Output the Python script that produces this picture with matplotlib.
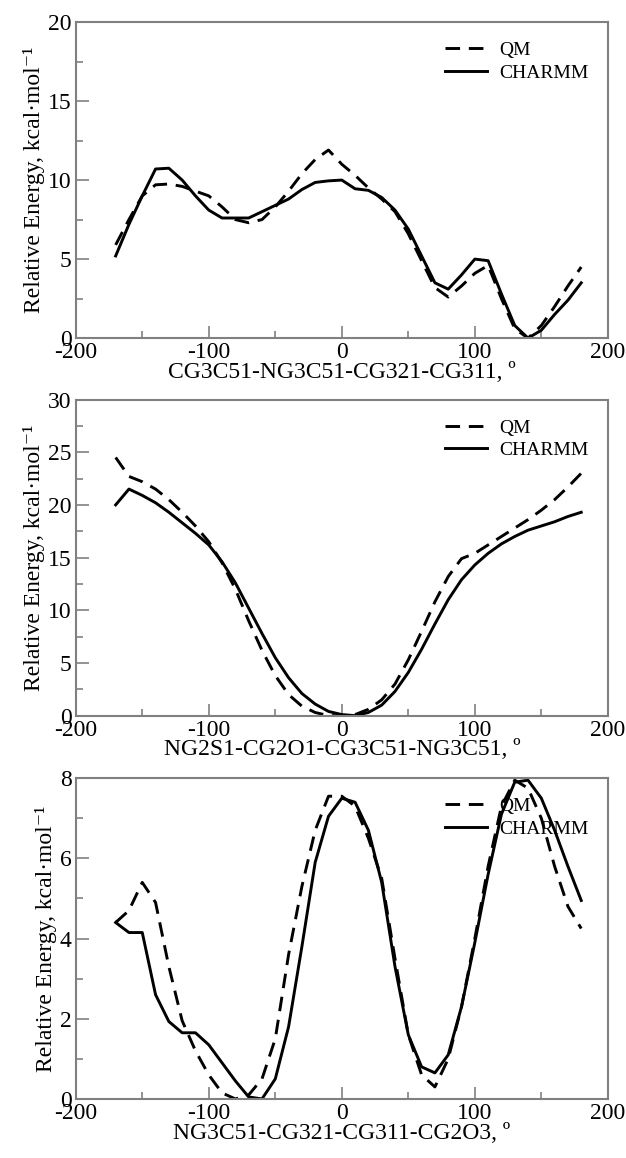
import numpy as np
import matplotlib
matplotlib.use("Agg")
import matplotlib.pyplot as plt
from matplotlib.ticker import MultipleLocator

# ── data ──
angles = np.arange(-170, 181, 10)

# panel 1: CG3C51-NG3C51-CG321-CG311
qm_1 = [5.9, 7.5, 9.0, 9.7, 9.75, 9.6, 9.3, 9.0, 8.3, 7.5, 7.3, 7.5, 8.3, 9.3,
        10.4, 11.3, 11.9, 11.0, 10.3, 9.5, 8.8, 8.0, 6.6, 4.9, 3.2, 2.6, 3.3,
        4.1, 4.6, 2.5, 0.6, 0.0, 0.8, 2.0, 3.3, 4.5]
charmm_1 = [5.2, 7.2, 9.0, 10.7, 10.75, 10.0, 9.0, 8.1, 7.6, 7.6, 7.6, 8.0, 8.4,
            8.8, 9.4, 9.85, 9.95, 10.0, 9.45, 9.35, 8.9, 8.1, 6.9, 5.2, 3.5,
            3.1, 4.0, 5.0, 4.9, 2.8, 0.8, 0.0, 0.5, 1.5, 2.4, 3.5]

# panel 2: NG2S1-CG2O1-CG3C51-NG3C51
qm_2 = [24.5, 22.7, 22.2, 21.5, 20.5, 19.3, 18.0, 16.5, 14.5, 12.0, 9.0, 6.2,
        3.8, 2.0, 0.9, 0.3, 0.0, 0.0, 0.1, 0.6, 1.5, 3.0, 5.3, 8.0, 10.8, 13.2,
        14.9, 15.4, 16.2, 17.0, 17.8, 18.6, 19.5, 20.5, 21.7, 23.0]
charmm_2 = [20.0, 21.5, 20.9, 20.2, 19.3, 18.3, 17.3, 16.2, 14.6, 12.6, 10.2,
            7.8, 5.5, 3.6, 2.1, 1.1, 0.4, 0.1, 0.0, 0.3, 1.0, 2.3, 4.1, 6.3,
            8.7, 11.0, 12.9, 14.3, 15.4, 16.3, 17.0, 17.6, 18.0, 18.4, 18.9, 19.3]

# panel 3: NG3C51-CG321-CG311-CG2O3
qm_3 = [4.4, 4.7, 5.4, 4.9, 3.3, 1.95, 1.2, 0.6, 0.15, 0.0, 0.1, 0.5, 1.5,
        3.6, 5.3, 6.7, 7.55, 7.55, 7.3, 6.5, 5.5, 3.5, 1.6, 0.6, 0.3, 1.0, 2.3,
        4.0, 5.8, 7.3, 7.95, 7.75, 7.0, 5.8, 4.8, 4.25]
charmm_3 = [4.4, 4.15, 4.15, 2.6, 1.93, 1.65, 1.65, 1.35, 0.9, 0.45, 0.05, 0.0,
            0.5, 1.8, 3.8, 5.9, 7.05, 7.5, 7.4, 6.7, 5.4, 3.3, 1.6, 0.8, 0.65,
            1.1, 2.3, 3.9, 5.6, 7.1, 7.9, 7.95, 7.5, 6.7, 5.8, 4.95]

xlabels = ["CG3C51-NG3C51-CG321-CG311, º",
           "NG2S1-CG2O1-CG3C51-NG3C51, º",
           "NG3C51-CG321-CG311-CG2O3, º"]
ylims = [(0, 20), (0, 30), (0, 8)]
ysteps = [(5, 2.5), (5, 2.5), (2, 1)]

plt.rcParams['font.family'] = ['Liberation Serif', 'DejaVu Serif']
plt.rcParams['axes.unicode_minus'] = False

fig = plt.figure(figsize=(6.26, 11.58), dpi=100)
# axes boxes in figure fractions [left, bottom, width, height]
boxes = [[0.121, 0.708, 0.850, 0.273],
         [0.121, 0.382, 0.850, 0.273],
         [0.121, 0.051, 0.850, 0.277]]

panels = [(qm_1, charmm_1), (qm_2, charmm_2), (qm_3, charmm_3)]

for box, (qm, ch), xl, yl, (ymaj, ymin) in zip(boxes, panels, xlabels, ylims, ysteps):
    ax = fig.add_axes(box)
    ax.plot(angles, qm, color='black', lw=2.1, ls=(0, (5, 3)), label='QM')
    ax.plot(angles, ch, color='black', lw=2.1, label='CHARMM')
    ax.set_xlim(-200, 200)
    ax.set_ylim(*yl)
    ax.xaxis.set_major_locator(MultipleLocator(100))
    ax.xaxis.set_minor_locator(MultipleLocator(50))
    ax.yaxis.set_major_locator(MultipleLocator(ymaj))
    ax.yaxis.set_minor_locator(MultipleLocator(ymin))
    ax.tick_params(which='both', direction='in', labelsize=17, colors='#808080',
                   labelcolor='black', width=1.2)
    ax.tick_params(which='major', length=9, pad=3)
    ax.tick_params(which='minor', length=5)
    for sp in ax.spines.values():
        sp.set_color('#808080')
        sp.set_linewidth(1.5)
    ax.set_xlabel(xl, fontsize=17, labelpad=-1)
    ax.set_ylabel('Relative Energy, kcal·mol⁻¹', fontsize=17, labelpad=2)
    ax.legend(loc='upper right', frameon=False, fontsize=14, handlelength=2.2,
              handletextpad=0.6, labelspacing=0.25, borderaxespad=0.6)

fig.savefig('out.png', dpi=100)
